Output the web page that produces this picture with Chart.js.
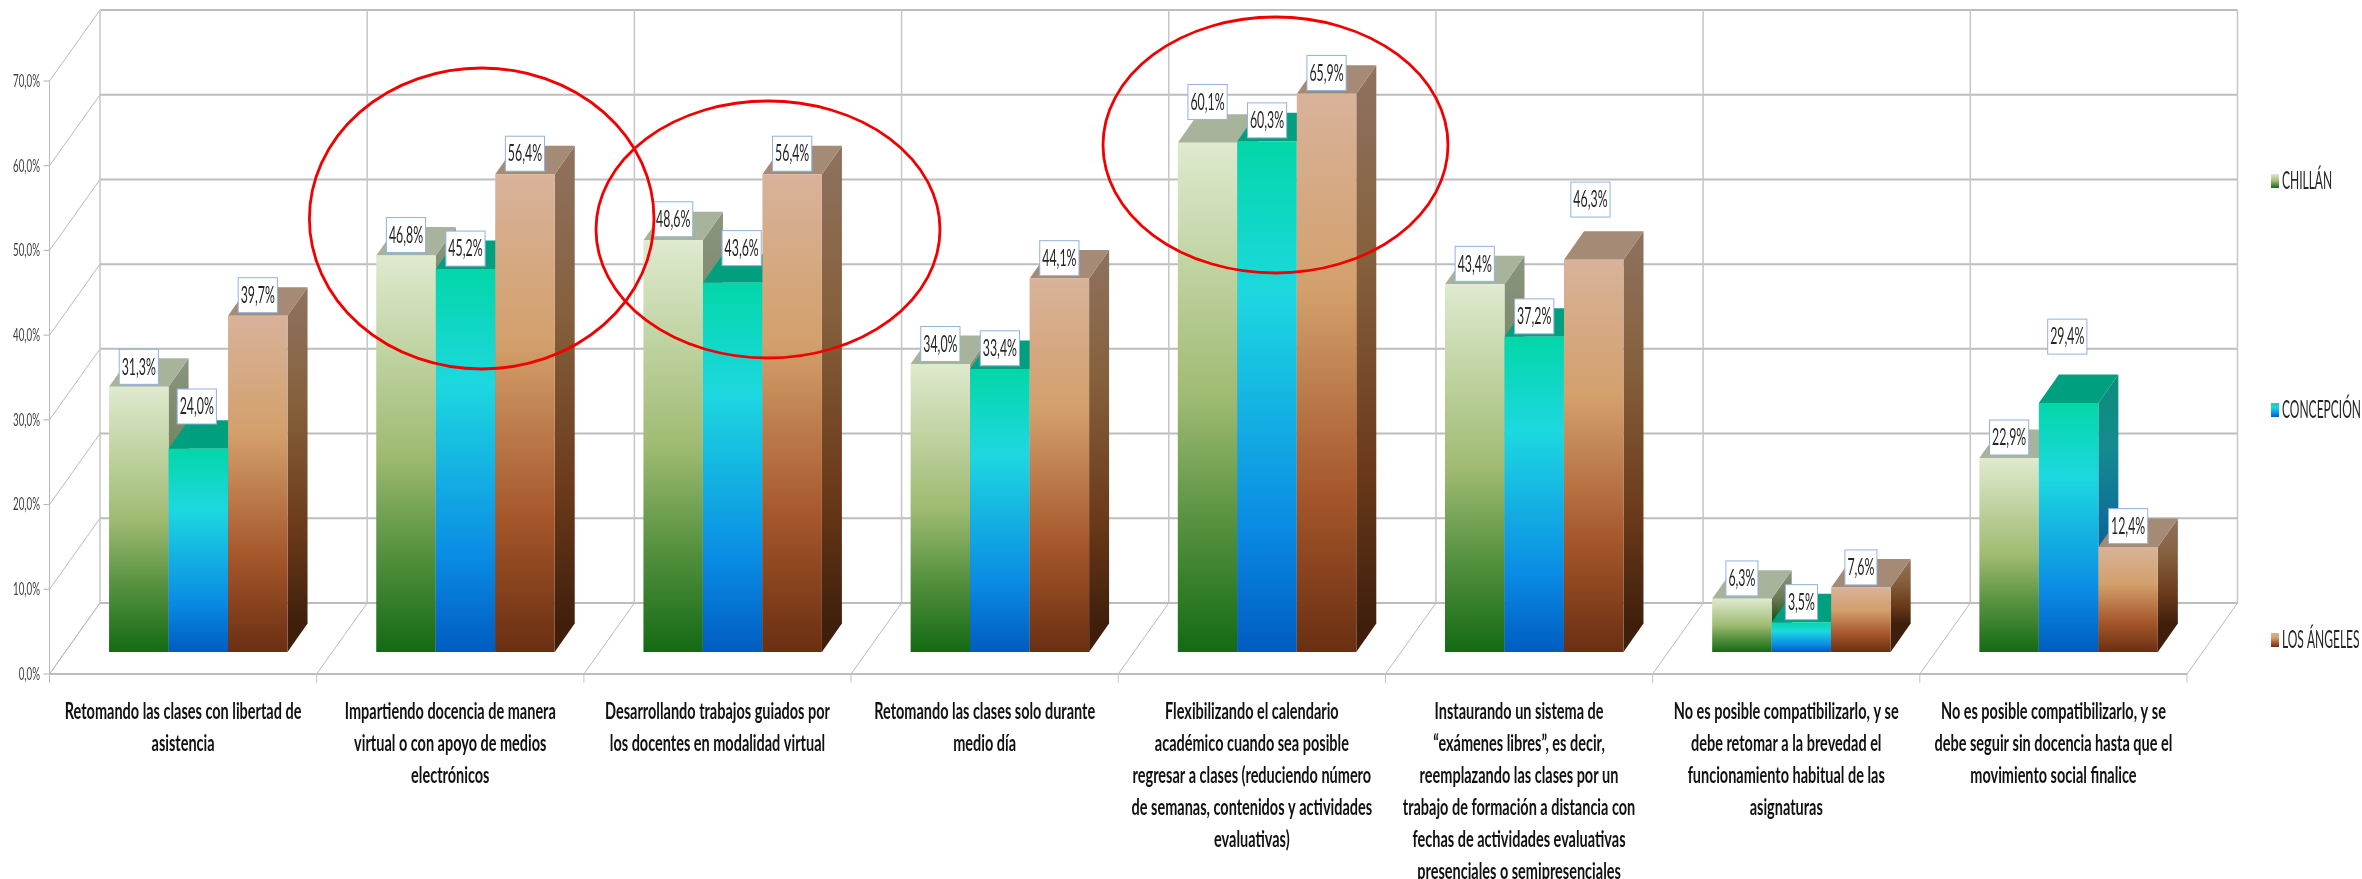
<!DOCTYPE html>
<html lang="es">
<head>
<meta charset="utf-8">
<title>Chart</title>
<script src="https://cdn.jsdelivr.net/npm/chart.js@4"></script>
<style>
html,body{margin:0;padding:0;background:#fff;overflow:hidden}
canvas{display:block;filter:blur(0.55px)}
</style>
</head>
<body>
<canvas id="c" width="2362" height="879"></canvas>
<script>
const categories = [
  ["Retomando las clases con libertad de","asistencia"],
  ["Impartiendo docencia de manera","virtual o con apoyo de medios","electrónicos"],
  ["Desarrollando trabajos guiados por","los docentes en modalidad virtual"],
  ["Retomando las clases solo durante","medio día"],
  ["Flexibilizando el calendario","académico cuando sea posible","regresar a clases (reduciendo número","de semanas, contenidos y actividades","evaluativas)"],
  ["Instaurando un sistema de","“exámenes libres”, es decir,","reemplazando las clases por un","trabajo de formación a distancia con","fechas de actividades evaluativas","presenciales o semipresenciales"],
  ["No es posible compatibilizarlo, y se","debe retomar a la brevedad el","funcionamiento habitual de las","asignaturas"],
  ["No es posible compatibilizarlo, y se","debe seguir sin docencia hasta que el","movimiento social finalice"]
];
const seriesNames = ["CHILLÁN","CONCEPCIÓN","LOS ÁNGELES"];
const chillan    = [31.3,46.8,48.6,34.0,60.1,43.4,6.3,22.9];
const concepcion = [24.0,45.2,43.6,33.4,60.3,37.2,3.5,29.4];
const losAngeles = [39.7,56.4,56.4,44.1,65.9,46.3,7.6,12.4];

/* label nudges as placed in the original picture (px above the bar top / px sideways) */
const labelLift = [
  [2.5,3,3.5,2.5,23.3,3,2.7,3],
  [24.7,3,17,3.3,3.3,3,2.7,48.8],
  [3,3,3,2.7,3.3,42.7,2.7,3.3]
];
const labelShift = [
  [0,0,0,0,0,0,0,0],
  [-1.5,0,9,0,0,0,0,-1.3],
  [0,0,0,0,0,-3.3,0,0]
];

/* look */
const palette = [
  {front:[[0,'#dfeacf'],[.5,'#9fbb72'],[.75,'#55913f'],[1,'#146a14']],
   side:[[0,'#8a957f'],[.5,'#6c7d55'],[1,'#0f4a10']], top:'#a8b39c'},
  {front:[[0,'#02d7a8'],[.3,'#1dd8e0'],[.75,'#0a8ce4'],[1,'#005cc0']],
   side:[[0,'#0a8e78'],[.3,'#158a90'],[.75,'#0a5f9a'],[1,'#003f80']], top:'#009f80'},
  {front:[[0,'#d8b29a'],[.35,'#d3a06c'],[.72,'#a5562a'],[1,'#6a2f12']],
   side:[[0,'#8f7260'],[.35,'#85603c'],[.72,'#6b3a1a'],[1,'#3f1f0c']], top:'#a58a75'}
];
const wall = {dx:50.5, dy:-71};        /* depth of the whole box */
const bar  = {dx:15.2, dy:-22, depthX:20, depthY:-28.5}; /* placement and depth of the columns */

const canvas = document.getElementById('c');
const ctx0 = canvas.getContext('2d');

/* The source's lettering is tall and narrow: squeeze text horizontally about its anchor */
const squeeze = f => /bold/.test(f) ? .63 : /18px/.test(f) ? .54 : /25px/.test(f) ? .48 : .515;
const rawFill = ctx0.fillText.bind(ctx0);
const rawMeasure = ctx0.measureText.bind(ctx0);
ctx0.fillText = function(t,x,y){
  const s = squeeze(ctx0.font);
  ctx0.save(); ctx0.translate(x,y); ctx0.scale(s,1); rawFill(t,0,0); ctx0.restore();
};
ctx0.measureText = function(t){
  const m = rawMeasure(t);
  return {width:m.width*squeeze(ctx0.font), actualBoundingBoxAscent:m.actualBoundingBoxAscent, actualBoundingBoxDescent:m.actualBoundingBoxDescent};
};

function grad(ctx,y0,y1,stops){
  const g = ctx.createLinearGradient(0,y0,0,y1);
  stops.forEach(s=>g.addColorStop(s[0],s[1]));
  return g;
}

function drawBox(chart){
  const c = chart.ctx, {y} = chart.scales, a = chart.chartArea;
  c.save();
  /* side wall & back wall gridlines */
  y.ticks.forEach(t=>{
    const p = y.getPixelForValue(t.value);
    c.strokeStyle='#b9b9b9'; c.lineWidth=1;
    c.beginPath(); c.moveTo(a.left,p); c.lineTo(a.left+wall.dx,p+wall.dy); c.stroke();
    c.strokeStyle='#bdbdbd'; c.lineWidth=2;
    c.beginPath(); c.moveTo(a.left+wall.dx,p+wall.dy); c.lineTo(a.right+wall.dx,p+wall.dy); c.stroke();
    c.strokeStyle='#b0b0b0'; c.lineWidth=1;
    c.beginPath(); c.moveTo(a.left-6,p); c.lineTo(a.left,p); c.stroke();
  });
  /* back verticals and floor diagonals */
  const step = (a.right-a.left)/categories.length;
  for(let i=0;i<=categories.length;i++){
    const fx = a.left+i*step;
    c.strokeStyle='#c6c6c6'; c.lineWidth=1.5;
    c.beginPath(); c.moveTo(fx+wall.dx,a.top+wall.dy); c.lineTo(fx+wall.dx,a.bottom+wall.dy); c.stroke();
    c.strokeStyle='#b9b9b9'; c.lineWidth=1;
    c.beginPath(); c.moveTo(fx,a.bottom); c.lineTo(fx+wall.dx,a.bottom+wall.dy); c.stroke();
    c.strokeStyle='#c4c4c4';
    c.beginPath(); c.moveTo(fx,a.bottom); c.lineTo(fx,a.bottom+9); c.stroke();
  }
  /* front edges */
  c.strokeStyle='#b9b9b9'; c.lineWidth=1;
  c.beginPath(); c.moveTo(a.left,a.top); c.lineTo(a.left,a.bottom+9); c.stroke();
  c.strokeStyle='#bdbdbd'; c.lineWidth=2;
  c.beginPath(); c.moveTo(a.left,a.bottom); c.lineTo(a.right,a.bottom); c.stroke();
  c.restore();
}

const boxPlugin = {
  id:'box',
  beforeDatasetsDraw(chart){
    drawBox(chart);
    const c = chart.ctx;
    /* paint series left to right, so that each column's top and side sit correctly against its neighbour */
    chart.data.datasets.forEach((ds,i)=>{
      const p = palette[i];
      c.save();
      c.translate(bar.dx,bar.dy);
      chart.getDatasetMeta(i).data.forEach(el=>{
        const r = el.x+el.width/2, l = el.x-el.width/2, t = el.y, b = el.base;
        c.fillStyle = grad(c,t+bar.depthY,b+bar.depthY,p.side);
        c.beginPath(); c.moveTo(r,t); c.lineTo(r+bar.depthX,t+bar.depthY);
        c.lineTo(r+bar.depthX,b+bar.depthY); c.lineTo(r,b); c.closePath(); c.fill();
        c.fillStyle = p.top;
        c.beginPath(); c.moveTo(l,t); c.lineTo(l+bar.depthX,t+bar.depthY);
        c.lineTo(r+bar.depthX,t+bar.depthY); c.lineTo(r,t); c.closePath(); c.fill();
        el.options.backgroundColor = grad(c,t,b,p.front);
        el.draw(c,chart.chartArea);
      });
      c.restore();
    });
    return false;
  },
  afterDraw(chart){
    const c = chart.ctx;
    /* value labels */
    chart.data.datasets.forEach((ds,i)=>{
      chart.getDatasetMeta(i).data.forEach((el,j)=>{
        const txt = ds.data[j].toFixed(1).replace('.',',')+'%';
        c.save();
        c.font='24px Lato';
        const w = c.measureText(txt).width+5, h=35;
        const cx = el.x+bar.dx+labelShift[i][j], bottom = el.y+bar.dy-labelLift[i][j];
        c.fillStyle='#fff'; c.strokeStyle='#8fb2de'; c.lineWidth=1;
        c.fillRect(cx-w/2,bottom-h,w,h); c.strokeRect(cx-w/2,bottom-h,w,h);
        c.fillStyle='#262626'; c.textAlign='center'; c.textBaseline='middle';
        c.fillText(txt,cx,bottom-h/2);
        c.restore();
      });
    });
    /* legend */
    const legendY = [181,410,640];
    chart.data.datasets.forEach((ds,i)=>{
      c.save();
      c.fillStyle = grad(c,legendY[i]-7,legendY[i]+7,palette[i].front);
      c.fillRect(2271,legendY[i]-7,8,14);
      c.font='25px Lato'; c.fillStyle='#262626'; c.textAlign='left'; c.textBaseline='middle';
      c.fillText(ds.label,2282,legendY[i]);
      c.restore();
    });
    /* hand-drawn red circles of the original */
    [[481.7,218.5,172.3,150.5],[768,229.5,172,128.5],[1275.5,145,172.5,128]].forEach(e=>{
      c.save(); c.strokeStyle='#f20000'; c.lineWidth=2.8;
      c.beginPath(); c.ellipse(e[0],e[1],e[2],e[3],0,0,Math.PI*2); c.stroke(); c.restore();
    });
  }
};

const mk = (label,data,i)=>({
  label, data, clip:false, borderWidth:0, backgroundColor:palette[i].front[1][1]
});

new Chart(canvas,{
  type:'bar',
  data:{labels:categories,datasets:[
    mk(seriesNames[0],chillan,0),
    mk(seriesNames[1],concepcion,1),
    mk(seriesNames[2],losAngeles,2)
  ]},
  plugins:[boxPlugin],
  options:{
    responsive:false, animation:false, devicePixelRatio:1,
    categoryPercentage:.668, barPercentage:1,
    layout:{padding:{top:81,right:175,left:0,bottom:0}},
    plugins:{legend:{display:false},tooltip:{enabled:false},title:{display:false}},
    scales:{
      x:{
        grid:{display:false}, border:{display:false},
        ticks:{autoSkip:false,maxRotation:0,minRotation:0,padding:14,color:'#111',
               font:{family:'Lato',size:23,weight:'bold',lineHeight:1.39}},
        afterFit(s){ s.height=205; s.paddingLeft=0; s.paddingRight=0; }
      },
      y:{
        min:0,max:70,
        grid:{display:false}, border:{display:false},
        ticks:{stepSize:10,padding:1.5,color:'#404040',font:{family:'Lato',size:18},
               callback:v=>v.toFixed(1).replace('.',',')+'%'},
        afterFit(s){ s.width=49.5; }
      }
    }
  }
});
</script>
</body>
</html>
